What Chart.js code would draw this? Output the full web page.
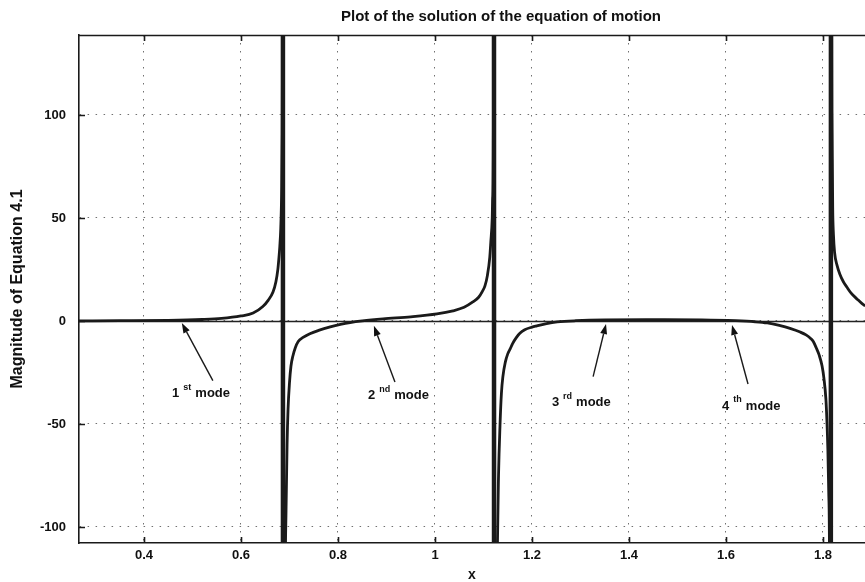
<!DOCTYPE html>
<html lang="en">
<head>
<meta charset="UTF-8" />
<title>Plot of the solution of the equation of motion</title>
<script src="https://cdn.jsdelivr.net/npm/chart.js"></script>
<style>
  body { margin: 0; background: #fff; }
  canvas { display: block; }
</style>
</head>
<body>
<canvas id="chart" width="865" height="582"></canvas>
<script>
// response curve, one pair of arrays per branch between the poles
const branch1X = [0.266, 0.35, 0.45, 0.52, 0.56, 0.60, 0.625, 0.645, 0.656, 0.666, 0.672, 0.676, 0.678, 0.680, 0.682, 0.684, 0.685, 0.6857, 0.6862];
const branch1Y = [0.0, 0.1, 0.3, 0.7, 1.2, 2.4, 3.8, 7.0, 10, 14, 19, 25, 30, 36, 45, 65, 90, 140, 1000];

const branch2X = [0.6868, 0.690, 0.693, 0.695, 0.697, 0.700, 0.703, 0.707, 0.712, 0.718, 0.728, 0.742, 0.760, 0.784, 0.805, 0.825, 0.85, 0.893, 0.95, 1.004, 1.037, 1.060, 1.078, 1.090, 1.098, 1.103, 1.108, 1.113, 1.115, 1.118, 1.119, 1.1205, 1.1212];
const branch2Y = [-1000, -200, -90, -60, -43, -30, -22, -17, -13, -10, -8, -6.2, -4.6, -2.9, -1.7, -0.8, 0, 1.0, 2.0, 3.4, 4.9, 6.6, 9.2, 11.5, 14.5, 17, 22, 31, 38, 50, 60, 100, 1000];

const branch3X = [1.1222, 1.125, 1.128, 1.131, 1.134, 1.137, 1.140, 1.145, 1.150, 1.155, 1.160, 1.168, 1.175, 1.185, 1.200, 1.210, 1.230, 1.252, 1.29, 1.35, 1.45, 1.55, 1.62, 1.66, 1.685, 1.710, 1.732, 1.753, 1.765, 1.775, 1.780, 1.786, 1.792, 1.798, 1.802, 1.806, 1.808, 1.810, 1.812, 1.8145, 1.8155];
const branch3Y = [-1000, -250, -120, -75, -51, -35, -27, -20, -16, -13.6, -11, -8, -6.0, -4.3, -3.0, -2.4, -1.3, -0.5, 0.1, 0.5, 0.6, 0.5, 0.1, -0.4, -1.0, -2.2, -3.6, -5.4, -6.8, -8.6, -10, -13, -16.5, -21.8, -28, -38, -48, -62, -85, -200, -1000];

const branch4X = [1.817, 1.8175, 1.8185, 1.820, 1.8215, 1.824, 1.829, 1.835, 1.842, 1.849, 1.858, 1.870, 1.880, 1.887];
const branch4Y = [1000, 200, 100, 55, 42, 33, 27, 22.5, 19, 16.5, 13.5, 10.7, 8.5, 7.3];

// mode markers: label anchor, arrow tail and arrow head (data units)
const modeNumbers = ['1', '2', '3', '4'];
const modeSuffixes = ['st', 'nd', 'rd', 'th'];
const labelX = [0.458, 0.862, 1.241, 1.592];
const labelY = [-35, -36.4, -39.8, -41.3];
const tailX = [0.542, 0.9175, 1.326, 1.6454];
const tailY = [-29, -29.6, -27, -30.6];
const headX = [0.478, 0.874, 1.3526, 1.6124];
const headY = [-1, -2.4, -1.5, -2];

const xMin = 0.266, xMax = 1.8866;
const yMin = -107.8, yMax = 138.8;

const FONT = '"Liberation Sans", Arial, Helvetica, sans-serif';

const points = [];
[[branch1X, branch1Y], [branch2X, branch2Y], [branch3X, branch3Y], [branch4X, branch4Y]].forEach(([xs, ys]) => {
  xs.forEach((v, i) => points.push({ x: v, y: ys[i] }));
});

// zero axis, top frame, inward tick marks, title and mode annotations
const decorations = {
  id: 'decorations',
  beforeDatasetsDraw(chart) {
    const { ctx, chartArea: a, scales: { y } } = chart;
    const y0 = Math.round(y.getPixelForValue(0)) + 0.5;
    ctx.save();
    ctx.strokeStyle = '#222';
    ctx.lineWidth = 1.3;
    ctx.beginPath();
    ctx.moveTo(a.left, y0);
    ctx.lineTo(a.right, y0);
    ctx.stroke();
    ctx.restore();
  },
  afterDatasetsDraw(chart) {
    const { ctx, chartArea: a, scales: { x, y } } = chart;
    ctx.save();
    ctx.strokeStyle = '#1a1a1a';
    ctx.lineWidth = 1.6;
    ctx.beginPath();
    ctx.moveTo(a.left, a.top + 0.5);
    ctx.lineTo(a.right, a.top + 0.5);
    x.ticks.forEach(t => {
      const px = Math.round(x.getPixelForValue(t.value)) + 0.5;
      ctx.moveTo(px, a.bottom);
      ctx.lineTo(px, a.bottom - 6);
      ctx.moveTo(px, a.top);
      ctx.lineTo(px, a.top + 6);
    });
    y.ticks.forEach(t => {
      const py = Math.round(y.getPixelForValue(t.value)) + 0.5;
      ctx.moveTo(a.left, py);
      ctx.lineTo(a.left + 6, py);
    });
    ctx.stroke();

    ctx.fillStyle = '#111';
    ctx.textAlign = 'center';
    ctx.textBaseline = 'middle';
    ctx.font = 'bold 15px ' + FONT;
    ctx.fillText('Plot of the solution of the equation of motion', 501, 17);

    modeNumbers.forEach((n, i) => {
      const tx = x.getPixelForValue(tailX[i]), ty = y.getPixelForValue(tailY[i]);
      const hx = x.getPixelForValue(headX[i]), hy = y.getPixelForValue(headY[i]);
      const ang = Math.atan2(hy - ty, hx - tx);
      const len = 10, half = 3.5;
      const bx = hx - len * Math.cos(ang), by = hy - len * Math.sin(ang);
      ctx.lineWidth = 1.4;
      ctx.beginPath();
      ctx.moveTo(tx, ty);
      ctx.lineTo(bx, by);
      ctx.stroke();
      ctx.beginPath();
      ctx.moveTo(hx, hy);
      ctx.lineTo(bx + half * Math.sin(ang), by - half * Math.cos(ang));
      ctx.lineTo(bx - half * Math.sin(ang), by + half * Math.cos(ang));
      ctx.closePath();
      ctx.fill();

      const lx = x.getPixelForValue(labelX[i]), ly = y.getPixelForValue(labelY[i]);
      ctx.textAlign = 'left';
      ctx.font = 'bold 13px ' + FONT;
      ctx.fillText(n, lx, ly);
      let off = ctx.measureText(n).width + 4;
      ctx.font = 'bold 9px ' + FONT;
      ctx.fillText(modeSuffixes[i], lx + off, ly - 6);
      off += ctx.measureText(modeSuffixes[i]).width + 4;
      ctx.font = 'bold 13px ' + FONT;
      ctx.fillText('mode', lx + off, ly);
    });
    ctx.restore();
  }
};

new Chart(document.getElementById('chart'), {
  type: 'line',
  data: {
    datasets: [{
      data: points,
      borderColor: '#1a1a1a',
      borderWidth: 2.8,
      pointRadius: 0,
      fill: false,
      cubicInterpolationMode: 'monotone',
      clip: 0,
      segment: {
        // the jump across each pole is drawn heavier
        borderWidth: ctx => (Math.abs(ctx.p0.parsed.y) > 500 && Math.abs(ctx.p1.parsed.y) > 500) ? 4.5 : undefined
      }
    }]
  },
  options: {
    responsive: false,
    animation: false,
    layout: { padding: { top: 35, left: 0, right: 0, bottom: 0 } },
    plugins: {
      legend: { display: false },
      tooltip: { enabled: false }
    },
    scales: {
      x: {
        type: 'linear',
        min: xMin,
        max: xMax,
        afterFit: s => { s.height = 39; },
        ticks: {
          stepSize: 0.2,
          includeBounds: false,
          maxRotation: 0,
          padding: 5,
          color: '#111',
          font: { family: FONT, size: 13, weight: 'bold' },
          callback: v => String(+v.toFixed(1))
        },
        grid: { color: '#707070', lineWidth: 1, drawTicks: false },
        border: { display: true, color: '#1a1a1a', width: 1.6, dash: [1.5, 6.5] },
        title: {
          display: true,
          text: 'x',
          color: '#111',
          font: { family: FONT, size: 14, weight: 'bold', lineHeight: 1 },
          padding: { top: 0, bottom: 0 }
        }
      },
      y: {
        type: 'linear',
        min: yMin,
        max: yMax,
        afterFit: s => { s.width = 79; },
        ticks: {
          stepSize: 50,
          includeBounds: false,
          padding: 13,
          color: '#111',
          font: { family: FONT, size: 13, weight: 'bold' },
          callback: v => String(v)
        },
        grid: { color: '#707070', lineWidth: 1, drawTicks: false },
        border: { display: true, color: '#1a1a1a', width: 1.6, dash: [1.5, 6.5] },
        title: {
          display: true,
          text: 'Magnitude of Equation 4.1',
          color: '#111',
          font: { family: FONT, size: 16, weight: 'bold' },
          padding: { top: 8, bottom: 0 }
        }
      }
    }
  },
  plugins: [decorations]
});
</script>
</body>
</html>
